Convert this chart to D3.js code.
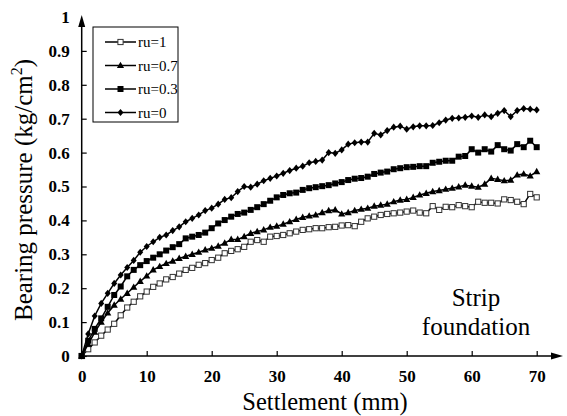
<!DOCTYPE html>
<html>
<head>
<meta charset="utf-8">
<script src="https://cdn.jsdelivr.net/npm/d3@7/dist/d3.min.js"></script>
<style>
  html,body{margin:0;padding:0;background:#fff;}
</style>
</head>
<body>
<svg id="chart" width="567" height="416"></svg>
<script>
// settlement (mm), one reading per mm
const settlement = d3.range(0, 71);
// bearing pressure (kg/cm2)
const ru1 = [0,0.02,0.04,0.06,0.078,0.095,0.12,0.143,0.16,0.176,0.19,0.204,0.214,0.226,0.233,0.243,0.254,0.26,0.269,0.274,
  0.283,0.29,0.303,0.31,0.315,0.322,0.337,0.342,0.337,0.352,0.354,0.357,0.362,0.367,0.372,0.374,0.377,0.377,0.38,0.381,
  0.385,0.386,0.383,0.396,0.406,0.411,0.416,0.419,0.421,0.423,0.426,0.429,0.423,0.421,0.442,0.431,0.44,0.439,0.445,0.442,
  0.439,0.455,0.452,0.452,0.45,0.462,0.46,0.455,0.448,0.478,0.468];
const ru07 = [0,0.035,0.07,0.1,0.127,0.15,0.168,0.185,0.203,0.22,0.236,0.254,0.264,0.273,0.28,0.288,0.294,0.3,0.306,0.313,
  0.318,0.324,0.333,0.344,0.344,0.352,0.362,0.367,0.372,0.38,0.383,0.389,0.396,0.403,0.409,0.413,0.416,0.423,0.429,0.431,
  0.419,0.423,0.429,0.433,0.436,0.442,0.445,0.448,0.455,0.46,0.462,0.468,0.475,0.48,0.485,0.488,0.492,0.495,0.499,0.504,
  0.501,0.498,0.507,0.524,0.521,0.517,0.519,0.534,0.537,0.531,0.544];
const ru03 = [0,0.045,0.08,0.111,0.145,0.18,0.205,0.235,0.254,0.268,0.28,0.29,0.3,0.311,0.321,0.33,0.347,0.352,0.357,0.364,
  0.377,0.391,0.401,0.411,0.419,0.423,0.431,0.439,0.448,0.458,0.468,0.475,0.48,0.482,0.49,0.495,0.498,0.501,0.504,0.509,
  0.513,0.519,0.523,0.525,0.529,0.537,0.541,0.544,0.551,0.554,0.557,0.558,0.56,0.56,0.57,0.573,0.576,0.576,0.588,0.59,
  0.61,0.6,0.61,0.603,0.622,0.61,0.606,0.625,0.616,0.635,0.616];
const ru0 = [0,0.065,0.118,0.155,0.185,0.214,0.239,0.261,0.282,0.306,0.323,0.337,0.35,0.357,0.37,0.381,0.396,0.406,0.416,0.429,
  0.436,0.448,0.462,0.467,0.485,0.5,0.498,0.507,0.517,0.524,0.531,0.539,0.547,0.554,0.56,0.57,0.574,0.578,0.6,0.598,
  0.608,0.625,0.629,0.631,0.631,0.657,0.652,0.665,0.675,0.678,0.669,0.676,0.679,0.679,0.68,0.688,0.696,0.701,0.702,0.704,
  0.708,0.704,0.711,0.706,0.716,0.724,0.706,0.724,0.73,0.728,0.726];
const seriesNames = ['ru=1', 'ru=0.7', 'ru=0.3', 'ru=0'];
const xTicks = [0, 10, 20, 30, 40, 50, 60, 70];
const yTicks = [0, 0.1, 0.2, 0.3, 0.4, 0.5, 0.6, 0.7, 0.8, 0.9, 1];

const SERIF = "'Liberation Serif', 'Times New Roman', Times, serif";
const svg = d3.select('#chart');
const x = d3.scaleLinear().domain([0, 70]).range([81.7, 536.7]);
const y = d3.scaleLinear().domain([0, 1]).range([356, 17]);

const series = [
  { name: seriesNames[0], values: ru1, marker: 'openSquare' },
  { name: seriesNames[1], values: ru07, marker: 'triangle' },
  { name: seriesNames[2], values: ru03, marker: 'square' },
  { name: seriesNames[3], values: ru0, marker: 'diamond' }
];

function drawMarker(g, type, cx, cy){
  if(type === 'openSquare'){
    g.append('rect').attr('x', cx-2.6).attr('y', cy-2.6).attr('width', 5.2).attr('height', 5.2)
      .attr('fill', '#fff').attr('stroke', '#333').attr('stroke-width', 1);
  } else if(type === 'square'){
    g.append('rect').attr('x', cx-3).attr('y', cy-3).attr('width', 6).attr('height', 6).attr('fill', '#000');
  } else if(type === 'triangle'){
    g.append('path').attr('d', `M${cx},${cy-3.8}L${cx+3.6},${cy+2.6}L${cx-3.6},${cy+2.6}Z`).attr('fill', '#000');
  } else {
    g.append('path').attr('d', `M${cx},${cy-3.6}L${cx+3},${cy}L${cx},${cy+3.6}L${cx-3},${cy}Z`).attr('fill', '#000');
  }
}

function label(sel, size){
  return sel.style('font-family', SERIF).style('font-size', size + 'px').attr('fill', '#000');
}

// axes (ticks point inwards)
const xAxis = svg.append('g').attr('transform', `translate(0,${y(0)})`)
  .call(d3.axisBottom(x).tickValues(xTicks).tickSize(-5).tickPadding(14).tickFormat(d3.format('d')));
const yAxis = svg.append('g').attr('transform', `translate(${x(0)},0)`)
  .call(d3.axisLeft(y).tickValues(yTicks).tickSize(-5).tickPadding(12).tickFormat(d => String(+d.toFixed(1))));
[xAxis, yAxis].forEach(a => {
  a.select('.domain').remove();
  a.selectAll('.tick line').attr('stroke', '#000').attr('stroke-width', 1.2);
  label(a.selectAll('.tick text'), 17).style('font-weight', 'bold');
});
yAxis.select('.tick:last-of-type line').remove();

// axis lines with arrow heads
svg.append('line').attr('x1', x(0)).attr('x2', 555).attr('y1', y(0)).attr('y2', y(0)).attr('stroke', '#000').attr('stroke-width', 1.5);
svg.append('path').attr('d', `M563,${y(0)}L551,${y(0)-3.5}L551,${y(0)+3.5}Z`).attr('fill', '#000');
svg.append('line').attr('x1', x(0)).attr('x2', x(0)).attr('y1', y(0)).attr('y2', 25).attr('stroke', '#000').attr('stroke-width', 1.5);
svg.append('path').attr('d', `M${x(0)},15L${x(0)-3.5},27L${x(0)+3.5},27Z`).attr('fill', '#000');

// curves
const line = d3.line().x((d, i) => x(settlement[i])).y(d => y(d));
series.forEach(s => {
  svg.append('path').datum(s.values).attr('d', line)
    .attr('fill', 'none').attr('stroke', '#000').attr('stroke-width', 1.5);
  const gm = svg.append('g');
  s.values.forEach((v, i) => drawMarker(gm, s.marker, x(settlement[i]), y(v)));
});

// legend
const legend = svg.append('g').attr('transform', 'translate(93,27)');
legend.append('rect').attr('width', 85).attr('height', 95).attr('fill', '#fff').attr('stroke', '#000').attr('stroke-width', 1);
series.forEach((s, i) => {
  const ry = 15 + i * 23.5;
  legend.append('line').attr('x1', 12).attr('x2', 43).attr('y1', ry).attr('y2', ry).attr('stroke', '#000').attr('stroke-width', 1.5);
  drawMarker(legend, s.marker, 27.5, ry);
  label(legend.append('text').attr('x', 45).attr('y', ry).attr('dy', '0.35em'), 15).text(s.name);
});

// titles
label(svg.append('text').attr('x', 325).attr('y', 410).attr('text-anchor', 'middle'), 24.5).text('Settlement (mm)');
const yt = label(svg.append('text').attr('transform', 'translate(32,190) rotate(-90)').attr('text-anchor', 'middle'), 25);
yt.append('tspan').text('Bearing pressure (kg/cm');
yt.append('tspan').style('font-size', '16px').attr('dy', -10).text('2');
yt.append('tspan').attr('dy', 10).text(')');

// annotation
label(svg.append('text').attr('x', 476).attr('y', 306).attr('text-anchor', 'middle'), 25).text('Strip');
label(svg.append('text').attr('x', 476).attr('y', 335).attr('text-anchor', 'middle'), 25).text('foundation');
</script>
</body>
</html>
